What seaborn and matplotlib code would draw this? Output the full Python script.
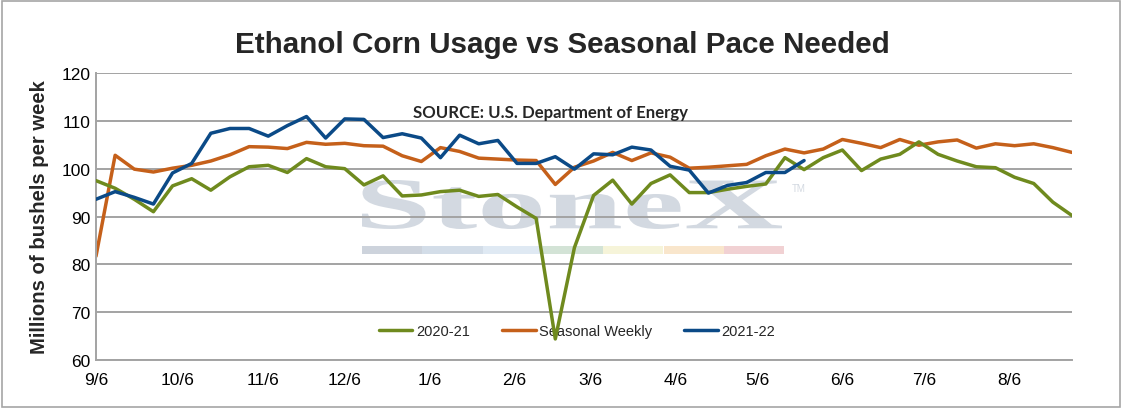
import pandas as pd
import seaborn as sns
import matplotlib.pyplot as plt
import matplotlib.dates as mdates
from matplotlib.textpath import TextPath
from matplotlib.patches import PathPatch, Rectangle
from matplotlib.transforms import Affine2D
from matplotlib.font_manager import FontProperties


# weekly values, millions of bushels, starting 9/6
weeks = pd.date_range("2021-09-06", periods=52, freq="7D")

usage_2020_21 = [97.5, 95.9, 93.6, 91.0, 96.4, 97.9, 95.5, 98.3, 100.4, 100.7,
                 99.2, 102.1, 100.4, 100.0, 96.6, 98.5, 94.3, 94.5, 95.2, 95.5,
                 94.2, 94.6, 92.0, 89.6, 64.4, 83.5, 94.4, 97.6, 92.6, 96.9,
                 98.7, 95.0, 95.0, 95.7, 96.3, 96.8, 102.3, 99.8, 102.3, 103.9,
                 99.6, 102.0, 103.0, 105.6, 103.0, 101.6, 100.4, 100.2, 98.2, 96.9,
                 93.0, 90.2]

seasonal_weekly = [81.7, 102.8, 99.9, 99.3, 100.1, 100.7, 101.6, 102.9, 104.6, 104.5,
                   104.2, 105.5, 105.1, 105.3, 104.8, 104.7, 102.7, 101.5, 104.4, 103.6,
                   102.2, 102.0, 101.8, 101.7, 96.7, 100.3, 101.6, 103.4, 101.7, 103.3,
                   102.4, 100.1, 100.3, 100.6, 100.9, 102.7, 104.1, 103.3, 104.1, 106.1,
                   105.3, 104.4, 106.1, 104.9, 105.6, 106.0, 104.3, 105.2, 104.8, 105.2,
                   104.4, 103.4]

usage_2021_22 = [93.6, 95.2, 94.0, 92.6, 99.1, 101.1, 107.4, 108.4, 108.4, 106.8,
                 109.0, 110.9, 106.4, 110.4, 110.3, 106.5, 107.3, 106.4, 102.3, 107.0,
                 105.2, 105.9, 101.1, 101.1, 102.5, 99.9, 103.1, 102.9, 104.5, 103.9,
                 100.5, 99.7, 94.9, 96.5, 97.1, 99.2, 99.2, 101.7]

# ticks on the 6th of every month, 9/6 .. 8/6
tick_dates = pd.date_range("2021-09-01", "2022-08-01", freq="MS") + pd.Timedelta(days=5)

GREEN = "#6f8a1e"
ORANGE = "#c5601a"
BLUE = "#0b4a87"
GRID = "#a3a3a3"

W, H = 1122, 410

sns.set_style("white")
plt.rcParams["font.family"] = ["Liberation Sans", "DejaVu Sans"]

fig = plt.figure(figsize=(W / 100, H / 100), dpi=100, facecolor="white")
ax = fig.add_axes([96 / W, 1 - 361 / H, 976 / W, 287 / H])
ax.patch.set_visible(False)

# chart data
sns.lineplot(x=weeks, y=seasonal_weekly, ax=ax, color=ORANGE, linewidth=2.5,
             label="Seasonal Weekly", zorder=2)
sns.lineplot(x=weeks, y=usage_2020_21, ax=ax, color=GREEN, linewidth=2.5,
             label="2020-21", zorder=3)
sns.lineplot(x=weeks[:len(usage_2021_22)], y=usage_2021_22, ax=ax, color=BLUE,
             linewidth=2.5, label="2021-22", zorder=4)
for line in ax.get_lines():
    line.set_solid_joinstyle("round")

ax.set_xlim(weeks[0], weeks[-1])
ax.set_ylim(60, 120)
ax.set_yticks(range(60, 121, 10))
ax.set_xticks(tick_dates)
ax.xaxis.set_major_formatter(mdates.DateFormatter("%-m/%-d"))
ax.tick_params(axis="both", length=0, labelsize=12.5, colors="black")
ax.tick_params(axis="x", pad=9)
ax.tick_params(axis="y", pad=4)

ax.yaxis.grid(True, color=GRID, linewidth=1.4)
ax.xaxis.grid(False)
for side in ["top", "right"]:
    ax.spines[side].set_visible(False)
for side in ["left", "bottom"]:
    ax.spines[side].set_color(GRID)
    ax.spines[side].set_linewidth(1.4)

ax.set_xlabel("")
ax.set_ylabel("Millions of bushels per week", fontsize=14.6, fontweight="bold", labelpad=9)

handles, labels = ax.get_legend_handles_labels()
order = [labels.index(l) for l in ["2020-21", "Seasonal Weekly", "2021-22"]]
leg = ax.legend([handles[i] for i in order], [labels[i] for i in order],
                ncol=3, frameon=False, fontsize=10.5, loc="center",
                bbox_to_anchor=(0.493, 0.101), handlelength=2.3,
                handletextpad=0.25, columnspacing=2.2)
leg.set_zorder(1.5)

# titles
fig.text(0.501, 1 - 45 / H, "Ethanol Corn Usage vs Seasonal Pace Needed",
         ha="center", va="center", fontsize=21.3, fontweight="bold")
fig.text(413 / W, 1 - 118 / H, "SOURCE: U.S. Department of Energy",
         ha="left", va="baseline", fontsize=12.1, fontweight="bold",
         family=["Lato", "DejaVu Sans"])

# watermark
tp = TextPath((0, 0), "StoneX", size=100,
              prop=FontProperties(family="Liberation Serif", weight="bold"))
ext = tp.get_extents()
tr = (Affine2D().translate(-ext.x0, -ext.y0)
      .scale((782 - 362) / ext.width, (229 - 180) / ext.height)
      .translate(362, 180).scale(1 / W, 1 / H) + fig.transFigure)
fig.add_artist(PathPatch(tp, transform=tr, facecolor="#d3d9e1",
                         edgecolor="none", zorder=-2))
fig.text(792 / W, 1 - 192 / H, "TM", fontsize=7, color="#d3d9e1", zorder=-2)
bar_colors = ["#cdd3dc", "#d3dde8", "#dfe9f3", "#d3e3d6", "#f6f4d9", "#f9e6cc", "#f1d1d3"]
for k, c in enumerate(bar_colors):
    fig.add_artist(Rectangle(((362 + k * 60.3) / W, 1 - 255 / H), 60.3 / W, 8 / H,
                             transform=fig.transFigure, facecolor=c,
                             edgecolor="none", zorder=-2))

# outer frame
fig.add_artist(Rectangle((2 / W, 2 / H), (W - 4) / W, (H - 4) / H,
                         transform=fig.transFigure, facecolor="none",
                         edgecolor="#a6a6a6", linewidth=1.2))

fig.savefig("out.png", dpi=100, facecolor="white")
